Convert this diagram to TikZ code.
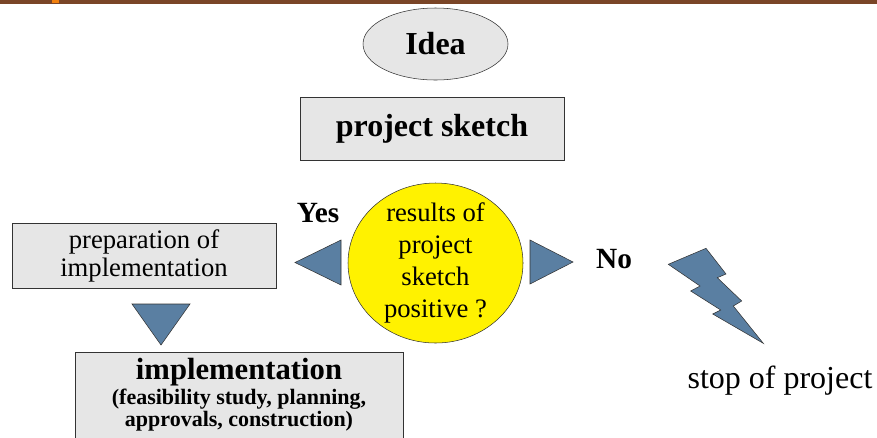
\documentclass[tikz,border=0pt]{standalone}
\usepackage{fontspec}
\setmainfont{Liberation Serif}
\usetikzlibrary{shapes.geometric}

\definecolor{boxgray}{HTML}{E6E6E6}
\definecolor{pointerblue}{HTML}{5A7FA2}
\definecolor{barbrown}{HTML}{7A4527}
\definecolor{barorange}{HTML}{B8673A}

\begin{document}
\begin{tikzpicture}[x=0.75pt, y=-0.75pt]

\tikzstyle{box}=[fill=boxgray, draw=black!80, thin]
\tikzstyle{pointer}=[fill=pointerblue, draw=black!80, thin]
\tikzstyle{bigbold}=[font=\bfseries\fontsize{24}{28}\selectfont]

\useasboundingbox (0,0) rectangle (877,437);

% bar on top
\shade[left color=barbrown, middle color=barorange, right color=barbrown] (0,0) rectangle (877,3);
\fill[orange!80!brown] (52,0) rectangle (59,3);

\node [box, ellipse, bigbold, minimum width=108.75pt, minimum height=54pt] (idea) at (435.5,44) {Idea};
\node [box, bigbold, minimum width=198pt, minimum height=47.25pt] (sketch) at (432,128.5) {project sketch};

\node [ellipse, draw=black!80, thin, fill=yellow, minimum width=131.25pt, minimum height=120pt] (check) at (435.5,263) {};
\node [align=center, font=\fontsize{20}{24}\selectfont] (checktext) at (check) {results of\\project\\sketch\\positive ?};

\node [anchor=base, font=\bfseries\fontsize{22}{26}\selectfont] (yes) at (318,222) {Yes};
\node [anchor=base, font=\bfseries\fontsize{22}{26}\selectfont] (no) at (614,268) {No};

\node [box, align=center, minimum width=198pt, minimum height=48.75pt, font=\fontsize{20}{21}\selectfont] (prep) at (144,255.5) {preparation of\\implementation};

\node [box, anchor=north, minimum width=246pt, minimum height=75pt] (impl) at (239,352) {};
\node [anchor=north, align=center, font=\bfseries\fontsize{16.5}{17}\selectfont] (impltext) at ([yshift=-1pt]impl.north) {{\fontsize{23}{24}\selectfont implementation}\\[1.5pt](feasibility study, planning,\\approvals, construction)};

\node [anchor=base, font=\fontsize{24}{28}\selectfont] (stop) at (780,388) {stop of project};

% pointers
\draw[pointer] (341,240) -- (295,262.5) -- (341,285) -- cycle;
\draw[pointer] (530,240) -- (573,262) -- (530,284) -- cycle;
\draw[pointer] (132,304) -- (190,304) -- (161,345) -- cycle;

% lightning
\draw[pointer] (668.3,264.3) -- (706,248.3) -- (726,274) -- (717.3,277.7) -- (741.7,301) -- (733.3,306) -- (763.3,343.3) -- (712.7,314) -- (720.7,310) -- (690.7,291) -- (700,286) -- cycle;

\end{tikzpicture}
\end{document}
